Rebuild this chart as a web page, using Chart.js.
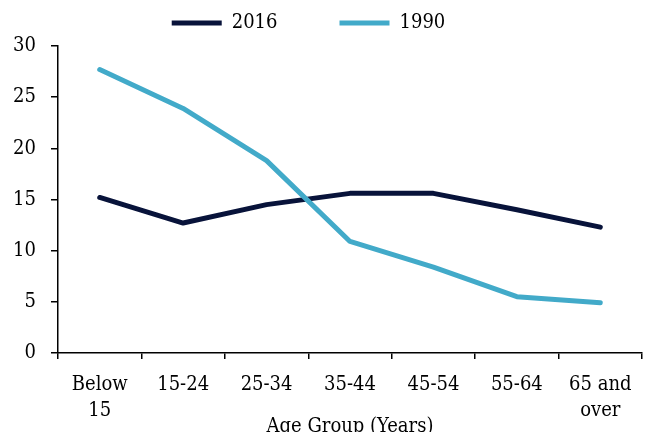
<!DOCTYPE html>
<html>
<head>
<meta charset="utf-8">
<script src="https://cdn.jsdelivr.net/npm/chart.js@4.4.0/dist/chart.umd.min.js"></script>
<style>
  html, body { margin: 0; padding: 0; background: #ffffff; }
  canvas { display: block; }
</style>
</head>
<body>
<canvas id="chart" width="651" height="432"></canvas>
<script>
// Age groups on the x axis (multi-line labels as arrays)
const ageGroups = [['Below', '15'], '15-24', '25-34', '35-44', '45-54', '55-64', ['65 and', 'over']];
// Share of population by age group (%)
const share2016 = [15.2, 12.7, 14.5, 15.6, 15.6, 14.0, 12.3];
const share1990 = [27.7, 23.9, 18.8, 10.9, 8.4, 5.5, 4.9];
// Value axis ticks
const yTicks = [0, 5, 10, 15, 20, 25, 30];

const NAVY = '#08133a';
const TEAL = '#42aac9';
const FONT = "'DejaVu Serif Condensed', 'DejaVu Serif', serif";

Chart.defaults.font.family = FONT;
Chart.defaults.font.size = 20;
Chart.defaults.color = '#000000';

// Places the legend row above the plot area
const legendPlacement = {
  id: 'legendPlacement',
  afterLayout(chart) {
    const lg = chart.legend;
    if (!lg) return;
    lg.left = 0;
    lg.right = 617;
    lg.top = -49;
  }
};

new Chart(document.getElementById('chart'), {
  type: 'line',
  data: {
    labels: ageGroups,
    datasets: [
      {
        label: '2016',
        data: share2016,
        borderColor: NAVY,
        backgroundColor: NAVY,
        borderWidth: 5,
        borderCapStyle: 'round',
        borderJoinStyle: 'round',
        pointRadius: 0,
        pointHoverRadius: 0,
        tension: 0,
        order: 1
      },
      {
        label: '1990',
        data: share1990,
        borderColor: TEAL,
        backgroundColor: TEAL,
        borderWidth: 5,
        borderCapStyle: 'round',
        borderJoinStyle: 'round',
        pointRadius: 0,
        pointHoverRadius: 0,
        tension: 0,
        order: 0
      }
    ]
  },
  options: {
    responsive: false,
    animation: false,
    events: [],
    layout: { padding: { left: 0, right: 9, top: 0, bottom: 0 } },
    plugins: {
      legend: {
        position: 'top',
        maxHeight: 46,
        labels: {
          usePointStyle: true,
          pointStyle: 'line',
          pointStyleWidth: 50,
          boxHeight: 20,
          padding: 62,
          color: '#000000',
          font: { size: 20 },
          sort: (a, b) => a.datasetIndex - b.datasetIndex
        }
      },
      tooltip: { enabled: false }
    },
    scales: {
      x: {
        offset: true,
        grid: {
          display: true,
          offset: true,
          drawOnChartArea: false,
          drawTicks: true,
          tickLength: 6,
          color: '#000000',
          lineWidth: 1.5
        },
        border: { color: '#000000', width: 1.5 },
        ticks: {
          padding: 12,
          color: '#000000',
          font: { size: 20, lineHeight: 1.33 },
          maxRotation: 0,
          autoSkip: false
        },
        title: {
          display: true,
          text: 'Age Group (Years)',
          color: '#000000',
          font: { size: 20, lineHeight: 1.2 },
          padding: { top: 0, bottom: -7 }
        },
        afterFit(scale) { scale.height = 79; }
      },
      y: {
        min: 0,
        max: 30,
        afterBuildTicks(scale) { scale.ticks = yTicks.map(v => ({ value: v })); },
        ticks: {
          padding: 15,
          color: '#000000',
          font: { size: 20 }
        },
        grid: {
          drawOnChartArea: false,
          drawTicks: true,
          tickLength: 7,
          color: '#000000',
          lineWidth: 1.5
        },
        border: { color: '#000000', width: 1.5 },
        afterFit(scale) { scale.width = 58; }
      }
    }
  },
  plugins: [legendPlacement]
});
</script>
</body>
</html>
